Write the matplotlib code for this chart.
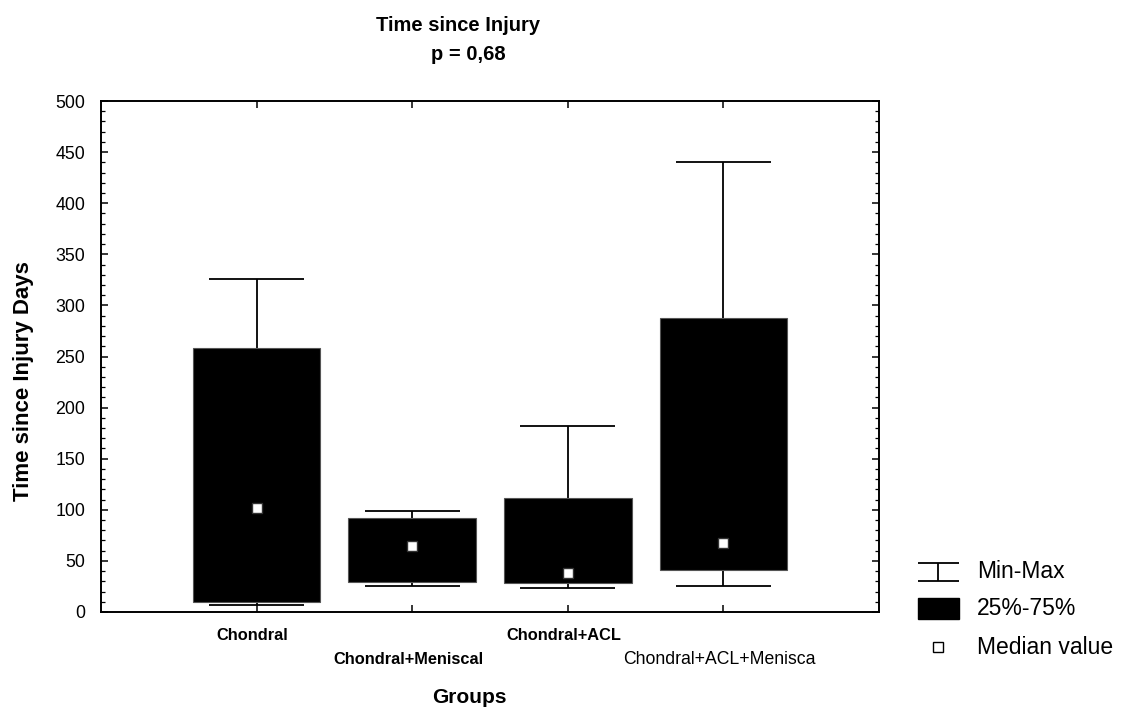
import matplotlib
matplotlib.use("Agg")
import matplotlib.pyplot as plt
from matplotlib.patches import Rectangle

# 数据 (days since injury)
groups = ["Chondral", "Chondral+Meniscal", "Chondral+ACL", "Chondral+ACL+Menisca"]
group_bold = [True, True, True, False]
mins = [7, 25, 23, 25]
q25 = [10, 29, 28, 41]
medians = [102, 65, 38, 68]
q75 = [258, 92, 112, 288]
maxs = [326, 99, 182, 440]

y_ticks = [0, 50, 100, 150, 200, 250, 300, 350, 400, 450, 500]
legend_labels = ["Min-Max", "25%-75%", "Median value"]

W, H = 1124, 708
plt.rcParams['font.family'] = ['Liberation Sans', 'DejaVu Sans']

fig = plt.figure(figsize=(W / 100, H / 100), dpi=100)
# axes box in pixels: x 101..879, y 101..612
ax = fig.add_axes([101 / W, (H - 612) / H, 778 / W, 511 / H])

xpos = list(range(1, len(groups) + 1))
box_w = 0.82
cap_w = 0.61

# whiskers (min-max)
ax.vlines(xpos, q75, maxs, color='black', lw=1.3, zorder=2)
ax.vlines(xpos, mins, q25, color='black', lw=1.3, zorder=2)
ax.hlines(maxs, [x - cap_w / 2 for x in xpos], [x + cap_w / 2 for x in xpos], color='black', lw=1.3, zorder=2)
ax.hlines(mins, [x - cap_w / 2 for x in xpos], [x + cap_w / 2 for x in xpos], color='black', lw=1.3, zorder=2)

# 25%-75% box
ax.bar(xpos, [b - a for a, b in zip(q25, q75)], bottom=q25, width=box_w,
       color='black', edgecolor='#555555', lw=0.8, zorder=3)

# median value
ax.plot(xpos, medians, 's', ms=7.5, mfc='white', mec='#333333', mew=1.0, zorder=4)

ax.set_xlim(0, 5)
ax.set_ylim(0, 500)
ax.set_yticks(y_ticks)
ax.set_yticks(range(0, 501, 10), minor=True)
ax.set_xticks(xpos)
ax.set_xticklabels([])
for sp in ax.spines.values():
    sp.set_linewidth(1.4)
ax.tick_params(axis='y', which='major', direction='in', length=5, width=1.1,
               right=True, labelsize=12.8, pad=11.5)
ax.tick_params(axis='y', which='minor', direction='in', length=3, width=0.9, right=True)
ax.tick_params(axis='x', which='major', direction='in', length=5, width=1.1, top=True)

# 分组标签, alternating rows like the original
row_base = [640, 664, 640, 664]
for x, name, bold, yb in zip(xpos, groups, group_bold, row_base):
    if bold:
        ax.text(x - 0.025, (612 - yb) / 511, name, transform=ax.get_xaxis_transform(),
                ha='center', va='baseline', fontsize=11.8, fontweight='bold')
    else:
        ax.text(x - 0.025, (612 - yb) / 511, name, transform=ax.get_xaxis_transform(),
                ha='center', va='baseline', fontsize=12.7)

fig.text(469 / W, 1 - 703 / H, "Groups", ha='center', va='baseline', fontsize=15, fontweight='bold')
fig.text(24 / W, 1 - 381 / H, "Time since Injury Days", ha='center', va='center',
         rotation=90, fontsize=16, fontweight='bold')
fig.text(458 / W, 1 - 31 / H, "Time since Injury", ha='center', va='baseline', fontsize=14.5, fontweight='bold')
fig.text(468 / W, 1 - 60 / H, "p = 0,68", ha='center', va='baseline', fontsize=14.5, fontweight='bold')

# legend, drawn in its own small axes (pixel coords)
lax = fig.add_axes([900 / W, (H - 665) / H, 224 / W, 125 / H])
lax.set_xlim(0, 224)
lax.set_ylim(125, 0)
lax.axis('off')
lax.hlines([23, 41], 18, 59, color='black', lw=1.3)
lax.vlines(38, 23, 41, color='black', lw=1.3)
lax.add_patch(Rectangle((18, 58), 41, 21, color='black'))
lax.plot([38], [107], 's', ms=6.5, mfc='white', mec='black', mew=1.0)
for yy, lab in zip([32, 68.5, 107.5], legend_labels):
    lax.text(77, yy, lab, ha='left', va='center', fontsize=16.5)

fig.savefig("out.png", dpi=100)
plt.close()
